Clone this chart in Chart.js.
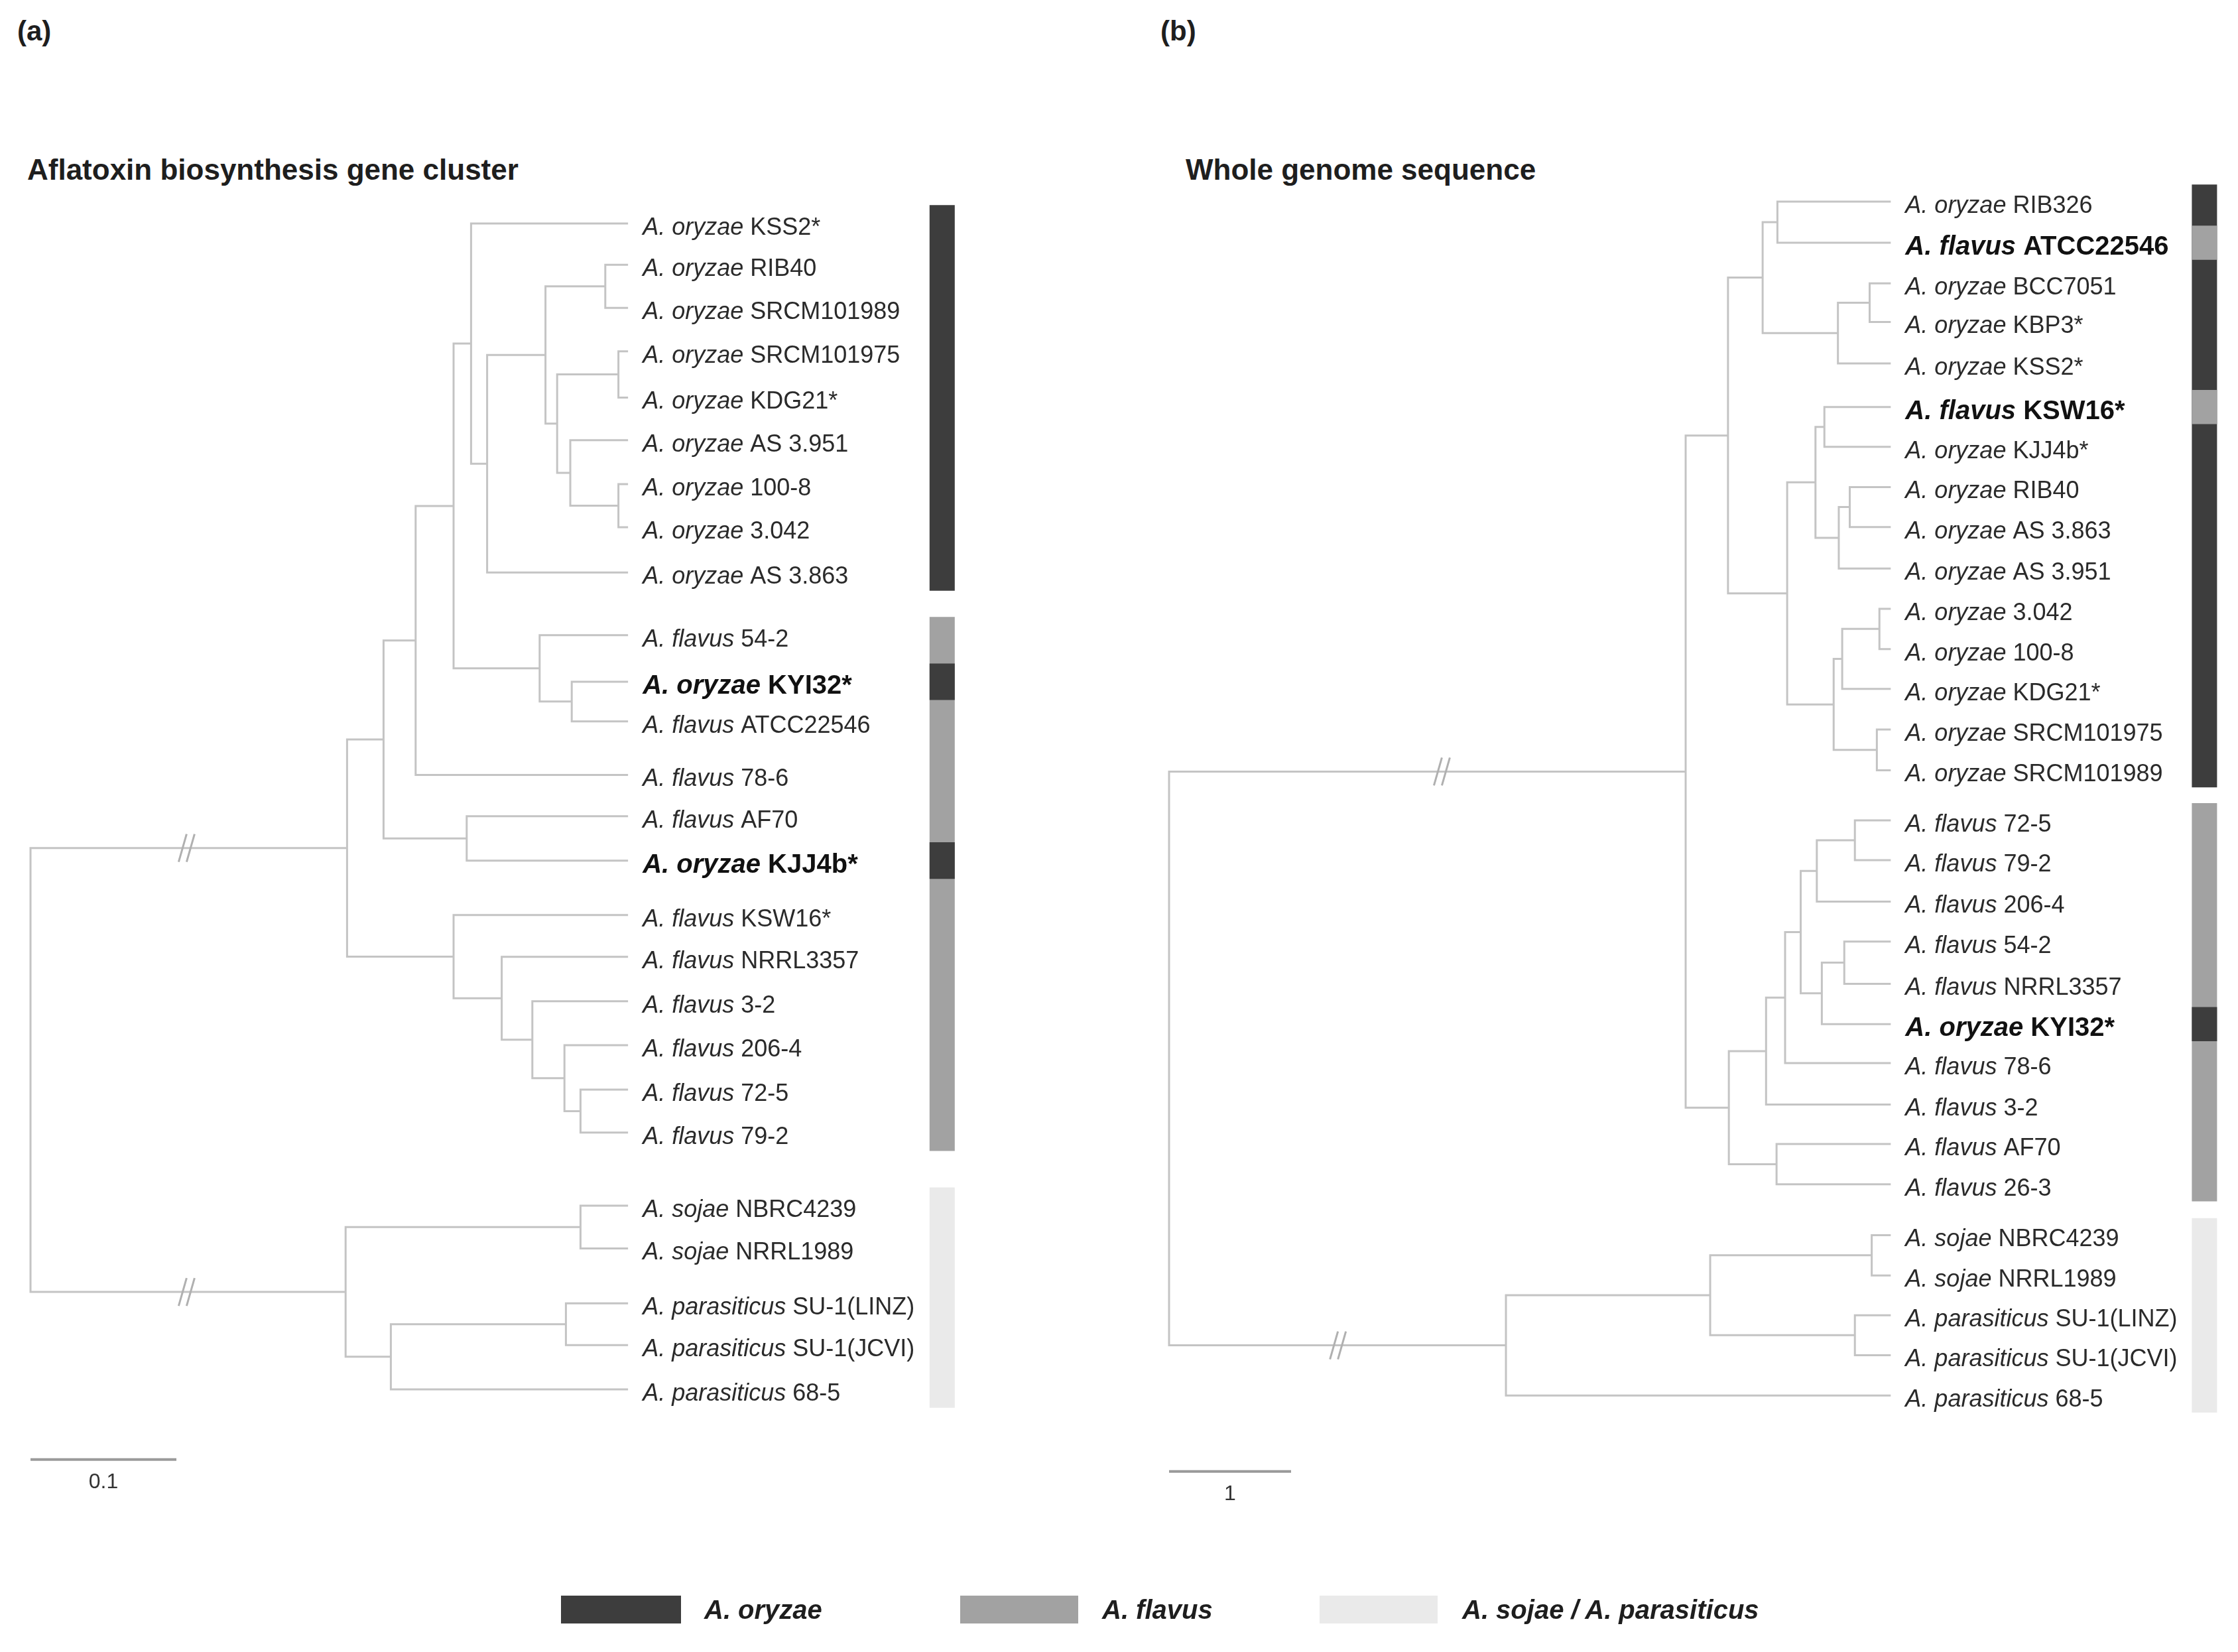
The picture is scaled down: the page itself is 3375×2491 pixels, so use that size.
<!DOCTYPE html>
<html>
<head>
<meta charset="utf-8">
<script src="https://cdn.jsdelivr.net/npm/chart.js@4.4.0/dist/chart.umd.min.js"></script>
<style>
  html, body { margin: 0; padding: 0; background: #fff; }
  body { width: 3375px; height: 2491px; position: relative; overflow: hidden;
         font-family: "Liberation Sans", Arial, sans-serif; color: #1e1e1e; }
  .txt { position: absolute; white-space: nowrap; line-height: 42px; font-weight: bold; font-size: 42px; }
  .title { font-size: 44px; }
  canvas { position: absolute; }
  .swatch { position: absolute; top: 2406px; height: 42px; }
  .legtext { position: absolute; top: 2406px; line-height: 42px; font-size: 40px;
             font-weight: bold; font-style: italic; white-space: nowrap; }
</style>
</head>
<body>
<div class="txt" style="left:26px;top:26px">(a)</div>
<div class="txt" style="left:1750px;top:26px">(b)</div>
<div class="txt title" style="left:41px;top:235px">Aflatoxin biosynthesis gene cluster</div>
<div class="txt title" style="left:1788px;top:235px">Whole genome sequence</div>

<canvas id="treeA" width="1500" height="2297" style="left:0px;top:140px"></canvas>
<canvas id="treeB" width="1675" height="2208" style="left:1700px;top:120px"></canvas>

<div class="swatch" style="left:846px;width:181px;background:#3d3d3d"></div>
<div class="legtext" style="left:1062px">A. oryzae</div>
<div class="swatch" style="left:1448px;width:178px;background:#a2a2a2"></div>
<div class="legtext" style="left:1662px">A. flavus</div>
<div class="swatch" style="left:1990px;width:178px;background:#eaeaea"></div>
<div class="legtext" style="left:2205px">A. sojae / A. parasiticus</div>

<script>
// colours of the species bars
const groupColor = { oryzae: '#3d3d3d', flavus: '#a2a2a2', sojae: '#eaeaea' };
const speciesGroup = { 'A. oryzae': 'oryzae', 'A. flavus': 'flavus', 'A. sojae': 'sojae', 'A. parasiticus': 'sojae' };

// ---------- (a) Aflatoxin biosynthesis gene cluster ----------
const speciesA = ['A. oryzae', 'A. oryzae', 'A. oryzae', 'A. oryzae', 'A. oryzae', 'A. oryzae', 'A. oryzae',
  'A. oryzae', 'A. oryzae', 'A. flavus', 'A. oryzae', 'A. flavus', 'A. flavus', 'A. flavus', 'A. oryzae',
  'A. flavus', 'A. flavus', 'A. flavus', 'A. flavus', 'A. flavus', 'A. flavus', 'A. sojae', 'A. sojae',
  'A. parasiticus', 'A. parasiticus', 'A. parasiticus'];
const strainsA = ['KSS2*', 'RIB40', 'SRCM101989', 'SRCM101975', 'KDG21*', 'AS 3.951', '100-8', '3.042',
  'AS 3.863', '54-2', 'KYI32*', 'ATCC22546', '78-6', 'AF70', 'KJJ4b*', 'KSW16*', 'NRRL3357', '3-2',
  '206-4', '72-5', '79-2', 'NBRC4239', 'NRRL1989', 'SU-1(LINZ)', 'SU-1(JCVI)', '68-5'];
const boldA = ['KYI32*', 'KJJ4b*'];
const rowsA = [0, 0.95, 1.94, 2.94, 4.0, 4.98, 5.99, 6.98, 8.02, 9.46, 10.53, 11.44, 12.67, 13.62,
  14.64, 15.89, 16.85, 17.87, 18.88, 19.9, 20.89, 22.57, 23.55, 24.81, 25.77, 26.79];
// internal nodes: id, depth (substitutions/site), children
const nodeIdA = ['root', 'nA', 'n269', 'n291', 'n318a', 'n330', 'n341', 'n382', 'n424', 'n390', 'n433a',
  'n399', 'n433b', 'n378', 'n400', 'n327', 'n318k', 'n351', 'n373', 'n395', 'n406', 'nS', 'n406s', 'n273', 'n397'];
const nodeXA = [0, 0.217, 0.242, 0.264, 0.290, 0.302, 0.313, 0.353, 0.394, 0.361, 0.403,
  0.370, 0.403, 0.349, 0.371, 0.299, 0.290, 0.323, 0.344, 0.366, 0.377, 0.216, 0.377, 0.247, 0.367];
const nodeKidsA = [['nA', 'nS'], ['n269', 'n318k'], ['n291', 'n327'], ['n318a', '78-6'], ['n330', 'n378'],
  ['KSS2*', 'n341'], ['n382', 'AS 3.863'], ['n424', 'n390'], ['RIB40', 'SRCM101989'], ['n433a', 'n399'],
  ['SRCM101975', 'KDG21*'], ['AS 3.951', 'n433b'], ['100-8', '3.042'], ['54-2', 'n400'],
  ['KYI32*', 'ATCC22546'], ['AF70', 'KJJ4b*'], ['KSW16*', 'n351'], ['NRRL3357', 'n373'], ['3-2', 'n395'],
  ['206-4', 'n406'], ['72-5', '79-2'], ['n406s', 'n273'], ['NBRC4239', 'NRRL1989'], ['n397', '68-5'],
  ['SU-1(LINZ)', 'SU-1(JCVI)']];
const blockFromA = [0, 9, 21];
const blockToA = [8, 20, 25];
const blockGroupA = ['oryzae', 'flavus', 'sojae'];
const breakNodeA = ['nA', 'nS'];
const breakXA = [0.107, 0.107];

// ---------- (b) Whole genome sequence ----------
const speciesB = ['A. oryzae', 'A. flavus', 'A. oryzae', 'A. oryzae', 'A. oryzae', 'A. flavus', 'A. oryzae',
  'A. oryzae', 'A. oryzae', 'A. oryzae', 'A. oryzae', 'A. oryzae', 'A. oryzae', 'A. oryzae', 'A. oryzae',
  'A. flavus', 'A. flavus', 'A. flavus', 'A. flavus', 'A. flavus', 'A. oryzae', 'A. flavus', 'A. flavus',
  'A. flavus', 'A. flavus', 'A. sojae', 'A. sojae', 'A. parasiticus', 'A. parasiticus', 'A. parasiticus'];
const strainsB = ['RIB326', 'ATCC22546', 'BCC7051', 'KBP3*', 'KSS2*', 'KSW16*', 'KJJ4b*', 'RIB40',
  'AS 3.863', 'AS 3.951', '3.042', '100-8', 'KDG21*', 'SRCM101975', 'SRCM101989', '72-5', '79-2',
  '206-4', '54-2', 'NRRL3357', 'KYI32*', '78-6', '3-2', 'AF70', '26-3', 'NBRC4239', 'NRRL1989',
  'SU-1(LINZ)', 'SU-1(JCVI)', '68-5'];
const boldB = ['ATCC22546', 'KSW16*', 'KYI32*'];
const rowsB = [0, 1.01, 2.01, 2.96, 3.98, 5.05, 6.03, 7.02, 8.0, 9.02, 10.01, 11.0, 11.98, 12.98, 13.98,
  15.21, 16.19, 17.21, 18.19, 19.23, 20.22, 21.18, 22.2, 23.17, 24.16, 25.41, 26.4, 27.38, 28.36, 29.35];
const nodeIdB = ['root', 'nOF', 'nO', 'n4865', 'n4986', 'n5482', 'n5742', 'n5066', 'n5298', 'n5371',
  'n5489', 'n5579', 'n5447', 'n5517', 'n5822', 'n5801', 'nF', 'n4893', 'n5049', 'n5177', 'n5309',
  'n5621', 'n5350', 'n5534', 'n4979', 'nS', 'n4435', 'n5759', 'n5621p'];
const nodeXB = [0, 4.234, 4.581, 4.865, 4.986, 5.482, 5.742, 5.066, 5.298, 5.371,
  5.489, 5.579, 5.447, 5.517, 5.822, 5.801, 4.588, 4.893, 5.049, 5.177, 5.309,
  5.621, 5.350, 5.534, 4.979, 2.761, 4.435, 5.759, 5.621];
const nodeKidsB = [['nOF', 'nS'], ['nO', 'nF'], ['n4865', 'n5066'], ['n4986', 'n5482'], ['RIB326', 'ATCC22546'],
  ['n5742', 'KSS2*'], ['BCC7051', 'KBP3*'], ['n5298', 'n5447'], ['n5371', 'n5489'], ['KSW16*', 'KJJ4b*'],
  ['n5579', 'AS 3.951'], ['RIB40', 'AS 3.863'], ['n5517', 'n5801'], ['n5822', 'KDG21*'], ['3.042', '100-8'],
  ['SRCM101975', 'SRCM101989'], ['n4893', 'n4979'], ['n5049', '3-2'], ['n5177', '78-6'], ['n5309', 'n5350'],
  ['n5621', '206-4'], ['72-5', '79-2'], ['n5534', 'KYI32*'], ['54-2', 'NRRL3357'], ['AF70', '26-3'],
  ['n4435', '68-5'], ['n5759', 'n5621p'], ['NBRC4239', 'NRRL1989'], ['SU-1(LINZ)', 'SU-1(JCVI)']];
const blockFromB = [0, 15, 25];
const blockToB = [14, 24, 29];
const blockGroupB = ['oryzae', 'flavus', 'sojae'];
const breakNodeB = ['nOF', 'nS'];
const breakXB = [2.236, 1.384];

const FONT = '"Liberation Sans", Arial, sans-serif';
const BRANCH = '#c4c4c4';
const PAD = 0.42; // half height of a bar segment, in rows

// work out node positions (leaf rows, internal node = mean of children)
function layout(p) {
  const pos = {};
  p.strains.forEach((s, i) => { pos[s] = { x: p.tipX, y: p.rows[i] }; });
  const idx = {};
  p.nodeIds.forEach((id, i) => { idx[id] = i; });
  function place(id) {
    if (pos[id]) return pos[id];
    const i = idx[id];
    const kids = p.kids[i].map(place);
    pos[id] = { x: p.nodeX[i], y: kids.reduce((s, k) => s + k.y, 0) / kids.length };
    return pos[id];
  }
  place(p.nodeIds[0]);
  return pos;
}

function line(data, color, width, order) {
  return { data: data, showLine: true, borderColor: color, borderWidth: width, pointRadius: 0,
    pointHoverRadius: 0, fill: false, clip: false, order: order, borderCapStyle: 'butt', borderJoinStyle: 'miter' };
}

function buildDatasets(p, pos) {
  const sets = [];
  // branches
  p.nodeIds.forEach((id, i) => {
    const n = pos[id];
    const a = pos[p.kids[i][0]], b = pos[p.kids[i][1]];
    sets.push(line([{ x: a.x, y: a.y }, { x: n.x, y: a.y }, { x: n.x, y: b.y }, { x: b.x, y: b.y }], BRANCH, 3, 0));
  });
  // species bars
  p.blockFrom.forEach((f, j) => {
    const t = p.blockTo[j], g = p.blockGroup[j];
    sets.push(line([{ x: p.barX, y: p.rows[f] - PAD }, { x: p.barX, y: p.rows[t] + PAD }], groupColor[g], 38, 2));
    for (let i = f; i <= t; i++) {
      const gi = speciesGroup[p.species[i]];
      if (gi !== g) {
        sets.push(line([{ x: p.barX, y: p.rows[i] - PAD }, { x: p.barX, y: p.rows[i] + PAD }], groupColor[gi], 38, 1));
      }
    }
  });
  // scale bar
  sets.push(line([{ x: 0, y: p.scaleRow }, { x: p.scaleLen, y: p.scaleRow }], '#9a9a9a', 4, 0));
  return sets;
}

// labels, break marks and scale label
function textPlugin(p, pos) {
  return {
    id: 'treeText',
    afterDatasetsDraw(chart) {
      const ctx = chart.ctx, xs = chart.scales.x, ys = chart.scales.y;
      ctx.save();
      ctx.textBaseline = 'alphabetic';
      ctx.textAlign = 'left';
      p.strains.forEach((s, i) => {
        const bold = p.bold.includes(s);
        const fs = bold ? 40 : 36;
        let x = xs.getPixelForValue(p.tipX) + 22;
        const y = ys.getPixelForValue(p.rows[i]) + 0.358 * fs + 4;
        ctx.fillStyle = bold ? '#111' : '#2a2a2a';
        ctx.font = (bold ? 'italic bold ' : 'italic ') + fs + 'px ' + FONT;
        ctx.fillText(p.species[i], x, y);
        x += ctx.measureText(p.species[i] + ' ').width;
        ctx.font = (bold ? 'bold ' : '') + fs + 'px ' + FONT;
        ctx.fillText(s, x, y);
      });
      // "//" marks on the long branches
      ctx.strokeStyle = '#b0b0b0';
      ctx.lineWidth = 3;
      p.breakNodes.forEach((id, j) => {
        const cx = xs.getPixelForValue(p.breakX[j]), cy = ys.getPixelForValue(pos[id].y);
        [-6, 6].forEach(dx => {
          ctx.beginPath();
          ctx.moveTo(cx + dx - 6, cy + 21);
          ctx.lineTo(cx + dx + 6, cy - 21);
          ctx.stroke();
        });
      });
      // scale label
      ctx.fillStyle = '#333';
      ctx.font = '32px ' + FONT;
      ctx.textAlign = 'center';
      ctx.fillText(p.scaleLabel, xs.getPixelForValue(p.scaleLen / 2), ys.getPixelForValue(p.scaleRow) + 43);
      ctx.restore();
    }
  };
}

function drawTree(canvasId, p) {
  const pos = layout(p);
  new Chart(document.getElementById(canvasId), {
    type: 'scatter',
    data: { datasets: buildDatasets(p, pos) },
    options: {
      responsive: false,
      devicePixelRatio: 1,
      animation: false,
      events: [],
      layout: { padding: { left: p.padLeft, right: 0, top: 0, bottom: 0 } },
      plugins: { legend: { display: false }, tooltip: { enabled: false } },
      scales: {
        x: { type: 'linear', min: 0, max: p.xMax, display: false },
        y: { type: 'linear', min: p.yMin, max: p.yMax, reverse: true, display: false }
      }
    },
    plugins: [textPlugin(p, pos)]
  });
}

drawTree('treeA', {
  species: speciesA, strains: strainsA, bold: boldA, rows: rowsA,
  nodeIds: nodeIdA, nodeX: nodeXA, kids: nodeKidsA, tipX: 0.4096,
  blockFrom: blockFromA, blockTo: blockToA, blockGroup: blockGroupA, barX: 0.6249,
  breakNodes: breakNodeA, breakX: breakXA,
  scaleLen: 0.1, scaleRow: 28.4, scaleLabel: '0.1',
  padLeft: 46, xMax: 0.6609, yMin: -3, yMax: 32
});

drawTree('treeB', {
  species: speciesB, strains: strainsB, bold: boldB, rows: rowsB,
  nodeIds: nodeIdB, nodeX: nodeXB, kids: nodeKidsB, tipX: 5.915,
  blockFrom: blockFromB, blockTo: blockToB, blockGroup: blockGroupB, barX: 8.486,
  breakNodes: breakNodeB, breakX: breakXB,
  scaleLen: 1, scaleRow: 31.22, scaleLabel: '1',
  padLeft: 63, xMax: 8.761, yMin: -3, yMax: 33
});
</script>
</body>
</html>
